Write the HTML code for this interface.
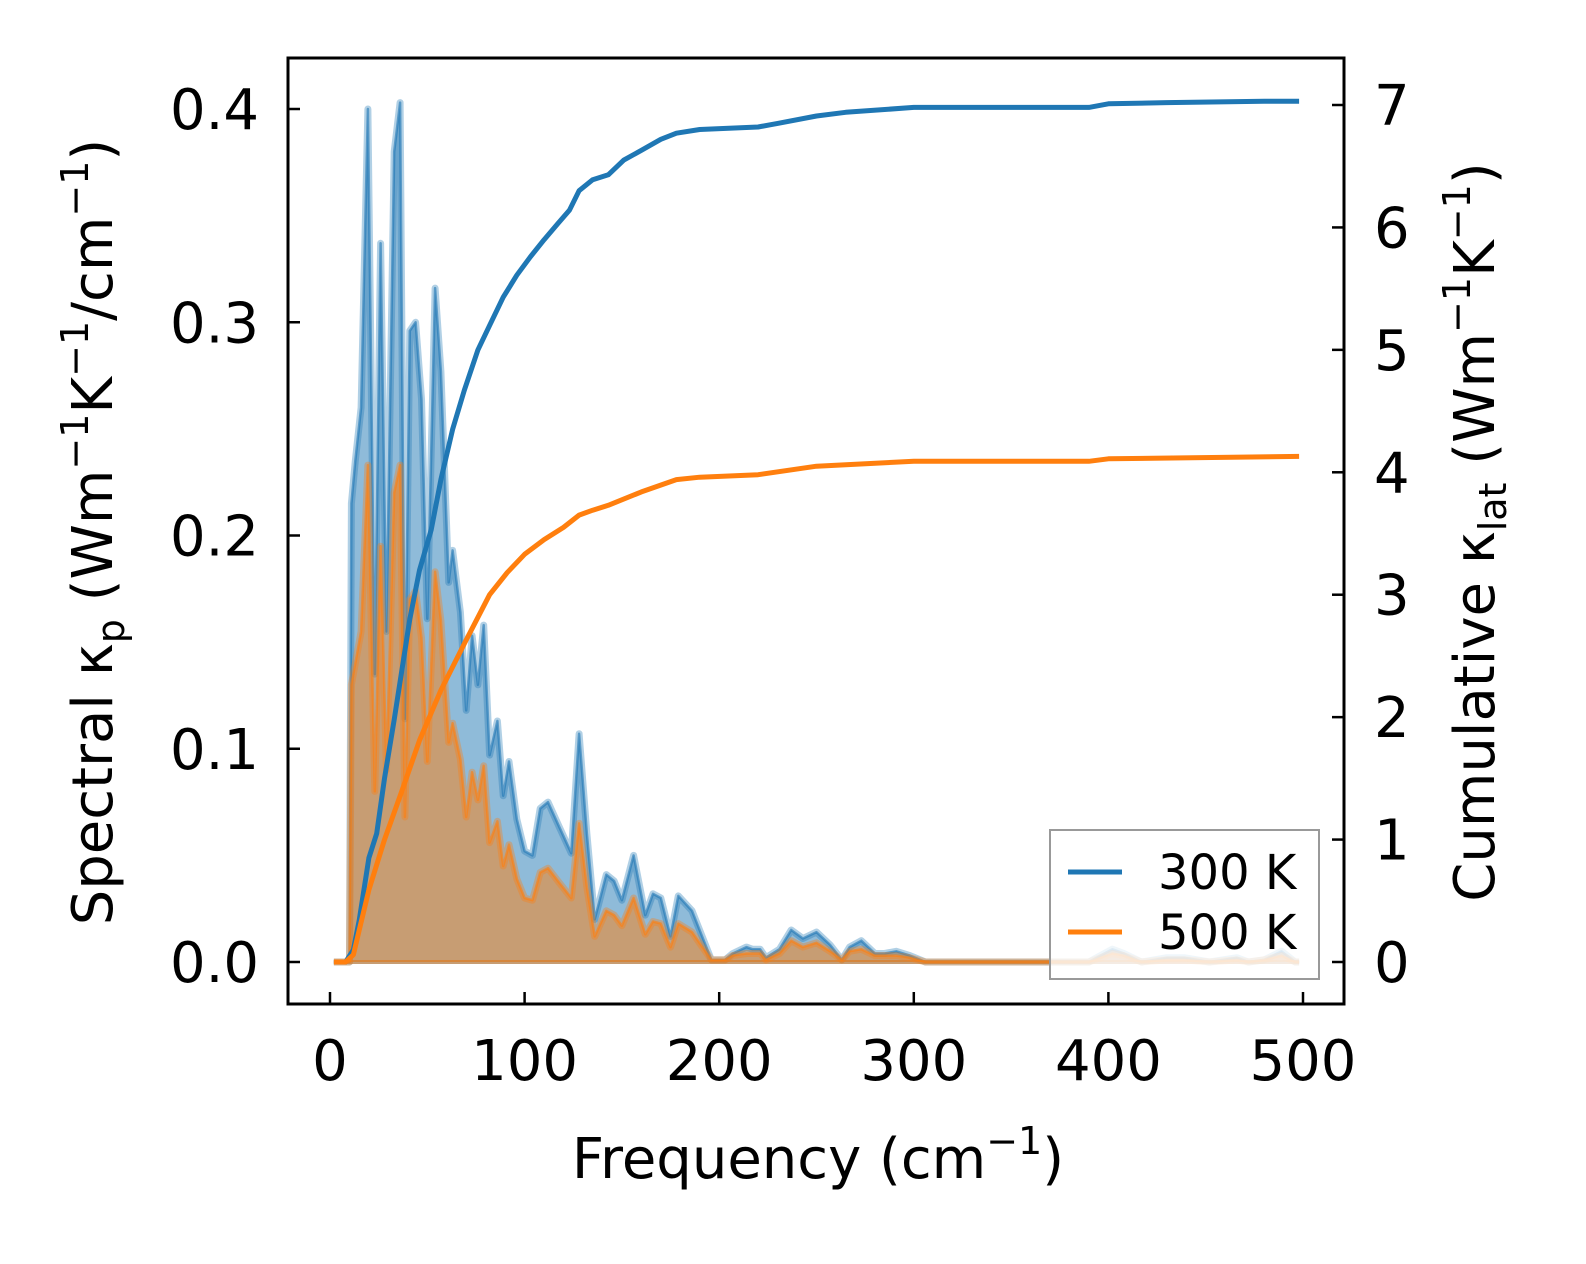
<!DOCTYPE html>
<html><head><meta charset="utf-8"><style>
html,body{margin:0;padding:0;background:#fff;}
svg{display:block;font-family:"DejaVu Sans","Liberation Sans",sans-serif;}
</style></head><body>
<svg id="chart" width="1586" height="1264" viewBox="0 0 1586 1264">
<g id="plot"></g>
<rect x="288" y="58" width="1056" height="946" fill="none" stroke="#000" stroke-width="3"/>
<g id="ticks"></g>
<text x="818" y="1178" font-size="56" text-anchor="middle">Frequency (cm<tspan font-size="38" dy="-24">−1</tspan><tspan dy="24">)</tspan></text>
<text transform="translate(112,532) rotate(-90)" font-size="56" text-anchor="middle">Spectral κ<tspan font-size="38" dy="12">p</tspan><tspan dy="-12"> (Wm</tspan><tspan font-size="38" dy="-24">−1</tspan><tspan dy="24">K</tspan><tspan font-size="38" dy="-24">−1</tspan><tspan dy="24">/cm</tspan><tspan font-size="38" dy="-24">−1</tspan><tspan dy="24">)</tspan></text>
<text transform="translate(1494,532) rotate(-90)" font-size="56" text-anchor="middle">Cumulative κ<tspan font-size="38" dy="12">lat</tspan><tspan dy="-12"> (Wm</tspan><tspan font-size="38" dy="-24">−1</tspan><tspan dy="24">K</tspan><tspan font-size="38" dy="-24">−1</tspan><tspan dy="24">)</tspan></text>
<g>
<rect x="1050" y="830" width="269" height="149" fill="#fff" fill-opacity="0.8" stroke="#999" stroke-width="2"/>
<line x1="1068" y1="872" x2="1122" y2="872" stroke="#1f77b4" stroke-width="5"/>
<text x="1158" y="889" font-size="48">300 K</text>
<line x1="1068" y1="932" x2="1122" y2="932" stroke="#ff7f0e" stroke-width="5"/>
<text x="1158" y="949" font-size="48">500 K</text>
</g>
</svg>
<script>
const freqSpec = [2,8,10,11,13,16,19.5,23,26,29,33,36,38.5,41,44,47,50,54,57,61,63,67,70,73,76,79,82,86,89,92,96,100,104,108,112,118,124,128,132,136,142,146,150,156,162,166,170,175,179,186,196,203,207,214,217,221,224,231,237,243,250,257,263,267,273,280,285,291,298,306,390,396,402,408,417,430,439,452,466,472,480,489,496,498];
const spec300 = [0,0,0,0.215,0.235,0.26,0.40,0.135,0.337,0.155,0.38,0.403,0.114,0.296,0.30,0.264,0.161,0.316,0.277,0.178,0.193,0.164,0.118,0.153,0.13,0.158,0.097,0.113,0.078,0.094,0.067,0.052,0.05,0.072,0.075,0.063,0.051,0.107,0.06,0.020,0.041,0.038,0.029,0.050,0.022,0.032,0.030,0.012,0.031,0.024,0.001,0.001,0.004,0.007,0.006,0.006,0.002,0.006,0.015,0.011,0.014,0.008,0.001,0.007,0.010,0.004,0.004,0.005,0.003,0,0,0.003,0.006,0.004,0,0.002,0.002,0,0.002,0,0.001,0.005,0,0];
const spec500 = [0,0,0,0.13,0.14,0.155,0.233,0.08,0.195,0.09,0.22,0.233,0.068,0.17,0.174,0.152,0.094,0.183,0.16,0.103,0.112,0.095,0.068,0.089,0.076,0.092,0.056,0.066,0.045,0.055,0.039,0.030,0.029,0.042,0.044,0.037,0.030,0.065,0.035,0.012,0.024,0.022,0.017,0.030,0.013,0.019,0.018,0.007,0.018,0.014,0.001,0.001,0.003,0.004,0.004,0.004,0.001,0.004,0.010,0.007,0.009,0.005,0.001,0.005,0.006,0.003,0.003,0.003,0.002,0,0,0.002,0.004,0.003,0,0.001,0.001,0,0.001,0,0.001,0.003,0,0];
const freqCum300 = [2,8,12,15,20,24,28,33,37,41,46,52,57,63,69,76,82,89,96,103,110,117,123,128,135,143,151,160,170,178,190,220,230,250,265,300,390,400,430,480,498];
const cum300 = [0,0,0.1,0.34,0.85,1.05,1.5,1.98,2.39,2.8,3.2,3.53,3.94,4.35,4.67,5.0,5.2,5.43,5.61,5.76,5.9,6.03,6.14,6.3,6.39,6.43,6.55,6.63,6.72,6.77,6.8,6.82,6.85,6.91,6.94,6.98,6.98,7.01,7.02,7.03,7.03];
const freqCum500 = [2,8,12,15,20,28,37,46,57,70,82,91,100,110,120,128,135,143,160,178,190,220,250,300,390,400,498];
const cum500 = [0,0,0.06,0.26,0.59,1.0,1.4,1.81,2.22,2.63,3.0,3.18,3.33,3.45,3.55,3.65,3.69,3.73,3.84,3.94,3.96,3.98,4.05,4.09,4.09,4.11,4.13];
const xTicks = [0,100,200,300,400,500];
const yLeftTicks = [0,0.1,0.2,0.3,0.4];
const yLeftLabels = ["0.0","0.1","0.2","0.3","0.4"];
const yRightTicks = [0,1,2,3,4,5,6,7];

const NS = "http://www.w3.org/2000/svg";
const xs = f => 330 + f * (1303 - 330) / 500;
const yl = v => 962 - v * (962 - 109) / 0.4;
const yr = v => 962 - v * (962 - 105) / 7;
const plot = document.getElementById('plot');
const ticks = document.getElementById('ticks');
function mk(tag, attrs, parent) {
  const e = document.createElementNS(NS, tag);
  for (const k in attrs) e.setAttribute(k, attrs[k]);
  parent.appendChild(e);
  return e;
}
function spectral(freq, vals, color, nm) {
  let d = freq.map((f, i) => (i ? 'L' : 'M') + xs(f).toFixed(1) + ' ' + yl(vals[i]).toFixed(1)).join(' ');
  const fill = mk('path', {d: d + ` L${xs(freq[freq.length-1])} ${yl(0)} L${xs(freq[0])} ${yl(0)} Z`, fill: color, 'fill-opacity': 0.5, stroke: 'none'}, plot);
  
  
  const halo = mk('path', {d: d, fill: 'none', stroke: color, 'stroke-width': 7, 'stroke-opacity': 0.35, 'stroke-linejoin': 'round'}, plot);
  
  
  const ln = mk('path', {d: d, fill: 'none', stroke: color, 'stroke-width': 2.5, 'stroke-opacity': 0.6, 'stroke-linejoin': 'round'}, plot);
  
  
  const base = mk('line', {x1: xs(freq[0]), x2: xs(freq[freq.length-1]), y1: yl(0), y2: yl(0), stroke: color, 'stroke-width': 4, 'stroke-opacity': 0.5}, plot);
  
  
}
spectral(freqSpec, spec300, '#1f77b4', 'spectral-300k');
spectral(freqSpec, spec500, '#ff7f0e', 'spectral-500k');
function cum(freq, vals, color, nm) {
  const d = freq.map((f, i) => (i ? 'L' : 'M') + xs(f).toFixed(1) + ' ' + yr(vals[i]).toFixed(1)).join(' ');
  const p = mk('path', {d: d, fill: 'none', stroke: color, 'stroke-width': 5, 'stroke-linejoin': 'round'}, plot);
  
  
}
cum(freqCum300, cum300, '#1f77b4', 'cumulative-300k-line');
cum(freqCum500, cum500, '#ff7f0e', 'cumulative-500k-line');

xTicks.forEach(t => {
  const l = mk('line', {x1: xs(t), x2: xs(t), y1: 1004, y2: 992, stroke: '#000', 'stroke-width': 2.5}, ticks);
  
  
  const tx = mk('text', {x: xs(t), y: 1080, 'font-size': 56, 'text-anchor': 'middle'}, ticks);
  tx.textContent = t;
  
  
});
yLeftTicks.forEach((t, i) => {
  const l = mk('line', {x1: 288, x2: 300, y1: yl(t), y2: yl(t), stroke: '#000', 'stroke-width': 2.5}, ticks);
  
  
  const tx = mk('text', {x: 259, y: yl(t) + 20, 'font-size': 56, 'text-anchor': 'end'}, ticks);
  tx.textContent = yLeftLabels[i];
  
  
});
yRightTicks.forEach(t => {
  const l = mk('line', {x1: 1332, x2: 1344, y1: yr(t), y2: yr(t), stroke: '#000', 'stroke-width': 2.5}, ticks);
  
  
  const tx = mk('text', {x: 1374, y: yr(t) + 20, 'font-size': 56, 'text-anchor': 'start'}, ticks);
  tx.textContent = t;
  
  
});
</script>
</body></html>
